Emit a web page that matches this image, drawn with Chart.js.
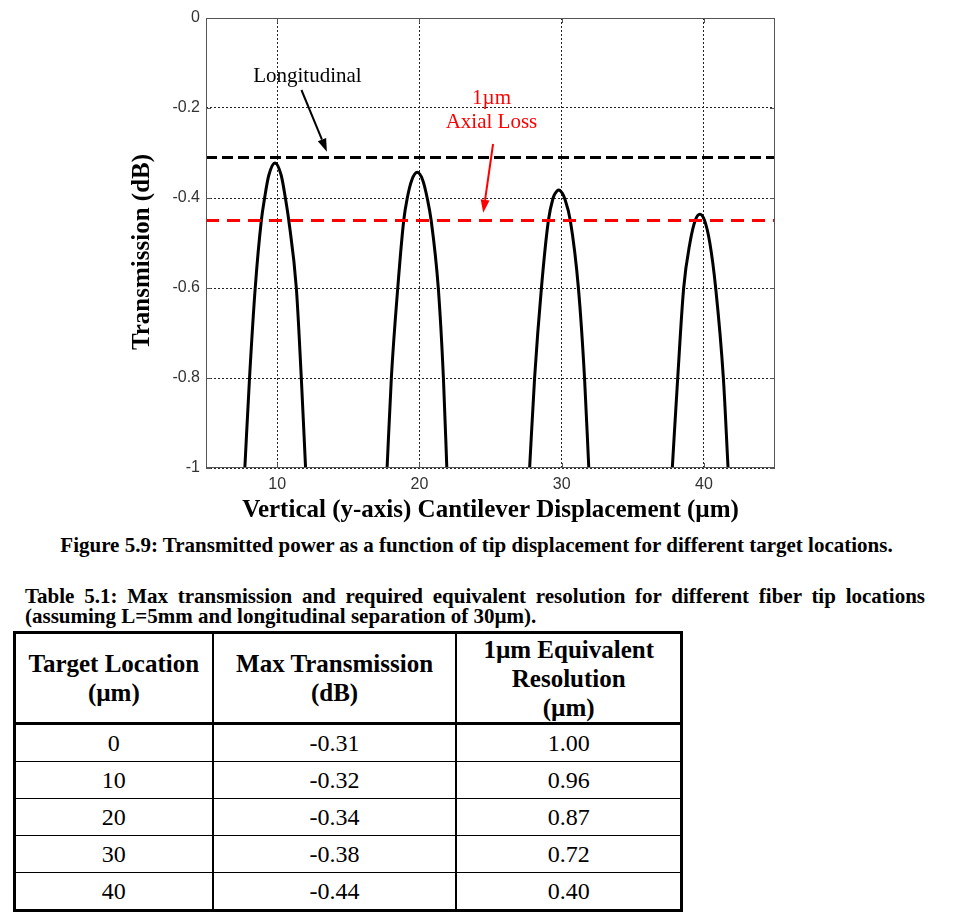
<!DOCTYPE html>
<html>
<head>
<meta charset="utf-8">
<script src="https://cdn.jsdelivr.net/npm/chart.js@4.4.0/dist/chart.umd.min.js"></script>
<style>
  body { margin: 0; background: #fff; width: 953px; height: 920px; position: relative; overflow: hidden;
         font-family: 'Liberation Serif', 'Times New Roman', serif; color: #000; }
  #chartBox { position: absolute; left: 0; top: 0; width: 953px; height: 530px; }
  #figCaption { position: absolute; left: 0; top: 532px; width: 953px; text-align: center;
                font-weight: bold; font-size: 21px; line-height: 26px; }
  #tblCaption { position: absolute; left: 25px; top: 586px; width: 900px; font-weight: bold;
                font-size: 21px; line-height: 20px; }
  #tblCaption .l1 { text-align: justify; text-align-last: justify; }
  #resTable { position: absolute; left: 13px; top: 631px; width: 670px; border-collapse: collapse;
              border: 3px solid #000; }
  #resTable th, #resTable td { text-align: center; padding: 0; border-left: 2px solid #000; border-right: 2px solid #000;
              font-family: 'Liberation Serif', 'Times New Roman', serif; }
  #resTable th { font-weight: bold; font-size: 25px; height: 88px; line-height: 29px; border-bottom: 3px solid #000; }
  #resTable td { font-weight: normal; font-size: 24px; height: 36px; border-top: 1.5px solid #000; }
</style>
</head>
<body>
<div id="chartBox"><canvas id="plot" width="953" height="530"></canvas></div>
<div id="figCaption">Figure 5.9: Transmitted power as a function of tip displacement for different target locations.</div>
<div id="tblCaption">
  <div class="l1">Table 5.1: Max transmission and required equivalent resolution for different fiber tip locations</div>
  <div>(assuming L=5mm and longitudinal separation of 30µm).</div>
</div>
<table id="resTable">
  <thead>
    <tr>
      <th style="width:199px">Target Location<br>(µm)</th>
      <th style="width:245px">Max Transmission<br>(dB)</th>
      <th style="width:226px">1µm Equivalent<br>Resolution<br>(µm)</th>
    </tr>
  </thead>
  <tbody id="tblBody"></tbody>
</table>

<script>
// axis ticks
const xRange = [5, 45];
const yRange = [-1, 0];
const xTicks = [10, 20, 30, 40];
const yTicks = [0, -0.2, -0.4, -0.6, -0.8, -1];
const yTickLabels = ['0', '-0.2', '-0.4', '-0.6', '-0.8', '-1'];

// transmission curves, one per target location
const peak10X = [7.73, 8.06, 8.46, 8.89, 9.12, 9.41, 9.85, 10.29, 10.58, 10.82, 11.35, 11.70, 12.0];
const peak10Y = [-1, -0.8, -0.6, -0.45, -0.4, -0.35, -0.322, -0.35, -0.4, -0.45, -0.6, -0.8, -1];
const peak20X = [17.73, 18.03, 18.48, 18.90, 19.15, 19.47, 19.85, 20.23, 20.55, 20.83, 21.33, 21.69, 21.93];
const peak20Y = [-1, -0.8, -0.6, -0.45, -0.4, -0.36, -0.343, -0.36, -0.4, -0.45, -0.6, -0.8, -1];
const peak30X = [27.75, 28.10, 28.58, 29.07, 29.40, 29.54, 29.80, 30.06, 30.20, 30.61, 31.18, 31.61, 31.91];
const peak30Y = [-1, -0.8, -0.6, -0.45, -0.4, -0.39, -0.382, -0.39, -0.4, -0.45, -0.6, -0.8, -1];
const peak40X = [37.78, 38.16, 38.58, 39.02, 39.39, 39.72, 40.05, 40.42, 40.83, 41.37, 41.70];
const peak40Y = [-1, -0.8, -0.6, -0.5, -0.45, -0.436, -0.45, -0.5, -0.6, -0.8, -1];

// reference levels
const longitudinalLevel = -0.31;
const axialLevel = -0.45;

// table
const targetLocations = [0, 10, 20, 30, 40];
const maxTransmission = [-0.31, -0.32, -0.34, -0.38, -0.44];
const equivResolution = [1.00, 0.96, 0.87, 0.72, 0.40];

// annotations (data coords)
const notes = [
  { text: 'Longitudinal', x: 12.13, y: -0.129, color: '#000' },
  { text: '1µm', x: 25.07, y: -0.178, color: '#ff0000' },
  { text: 'Axial Loss', x: 25.07, y: -0.233, color: '#ff0000' }
];
const arrows = [
  { from: [11.71, -0.16], to: [13.5, -0.297], color: '#000' },
  { from: [25.18, -0.28], to: [24.49, -0.433], color: '#ff0000' }
];
const yTitle = 'Transmission (dB)';

let tbody = document.getElementById('tblBody');
targetLocations.forEach((loc, i) => {
  let tr = document.createElement('tr');
  [String(loc), maxTransmission[i].toFixed(2), equivResolution[i].toFixed(2)].forEach(v => {
    let td = document.createElement('td');
    td.innerText = v;
    tr.appendChild(td);
  });
  tbody.appendChild(tr);
});

function toPoints(xs, ys) {
  return xs.map((x, i) => ({ x: x, y: ys[i] }));
}

function curve(xs, ys) {
  return {
    data: toPoints(xs, ys),
    borderColor: '#000',
    borderWidth: 3,
    pointRadius: 0,
    cubicInterpolationMode: 'monotone',
    fill: false
  };
}

function level(value, color, dash) {
  return {
    data: [{ x: xRange[0], y: value }, { x: xRange[1], y: value }],
    borderColor: color,
    borderWidth: 3,
    borderDash: dash,
    pointRadius: 0,
    fill: false
  };
}

function drawArrow(ctx, x1, y1, x2, y2, color) {
  let ang = Math.atan2(y2 - y1, x2 - x1);
  let len = 13, half = 4.5;
  let c = Math.cos(ang), s = Math.sin(ang);
  ctx.strokeStyle = color;
  ctx.fillStyle = color;
  ctx.lineWidth = 2;
  ctx.setLineDash([]);
  ctx.beginPath();
  ctx.moveTo(x1, y1);
  ctx.lineTo(x2 - len * c, y2 - len * s);
  ctx.stroke();
  ctx.beginPath();
  ctx.moveTo(x2, y2);
  ctx.lineTo(x2 - len * c + half * s, y2 - len * s - half * c);
  ctx.lineTo(x2 - len * c - half * s, y2 - len * s + half * c);
  ctx.closePath();
  ctx.fill();
}

const decorations = {
  id: 'decorations',
  afterDatasetsDraw(chart) {
    let ctx = chart.ctx;
    let a = chart.chartArea;
    let xs = chart.scales.x, ys = chart.scales.y;
    ctx.save();
    ctx.setLineDash([]);
    ctx.strokeStyle = '#555';
    ctx.lineWidth = 1;
    ctx.strokeRect(a.left + 0.5, a.top + 0.5, a.width - 1, a.height - 1);
    // matlab style inward tick marks
    ctx.beginPath();
    xTicks.forEach(v => {
      let px = Math.round(xs.getPixelForValue(v)) + 0.5;
      ctx.moveTo(px, a.bottom); ctx.lineTo(px, a.bottom - 5);
      ctx.moveTo(px, a.top); ctx.lineTo(px, a.top + 5);
    });
    yTicks.forEach(v => {
      let py = Math.round(ys.getPixelForValue(v)) + 0.5;
      ctx.moveTo(a.left, py); ctx.lineTo(a.left + 5, py);
      ctx.moveTo(a.right, py); ctx.lineTo(a.right - 5, py);
    });
    ctx.stroke();

    // y axis title, sits a bit below the plot centre in the original
    ctx.save();
    ctx.translate(a.left - 63, (a.top + a.bottom) / 2 + 9);
    ctx.rotate(-Math.PI / 2);
    ctx.font = 'bold 25px "Liberation Serif", "Times New Roman", serif';
    ctx.fillStyle = '#000';
    ctx.textAlign = 'center';
    ctx.textBaseline = 'middle';
    ctx.fillText(yTitle, 0, 0);
    ctx.restore();

    ctx.font = '21px "Liberation Serif", "Times New Roman", serif';
    ctx.textAlign = 'center';
    ctx.textBaseline = 'middle';
    notes.forEach(n => {
      ctx.fillStyle = n.color;
      ctx.fillText(n.text, xs.getPixelForValue(n.x), ys.getPixelForValue(n.y));
    });
    arrows.forEach(ar => {
      drawArrow(ctx,
        xs.getPixelForValue(ar.from[0]), ys.getPixelForValue(ar.from[1]),
        xs.getPixelForValue(ar.to[0]), ys.getPixelForValue(ar.to[1]), ar.color);
    });
    ctx.restore();
  }
};

let ctx = document.getElementById('plot').getContext('2d');
let chart = new Chart(ctx, {
  type: 'line',
  data: {
    datasets: [
      level(longitudinalLevel, '#000', [11, 5]),
      level(axialLevel, '#ff0000', [13, 8]),
      curve(peak10X, peak10Y),
      curve(peak20X, peak20Y),
      curve(peak30X, peak30Y),
      curve(peak40X, peak40Y)
    ]
  },
  options: {
    responsive: false,
    animation: false,
    layout: { padding: { left: 130, right: 178, top: 18, bottom: 0 } },
    plugins: { legend: { display: false }, tooltip: { enabled: false } },
    scales: {
      x: {
        type: 'linear',
        min: xRange[0],
        max: xRange[1],
        afterBuildTicks: s => { s.ticks = xTicks.map(v => ({ value: v })); },
        afterFit: s => { s.height = 62; },
        ticks: {
          font: { family: '"Liberation Sans", Arial, sans-serif', size: 16 },
          color: '#333',
          padding: 7,
          maxRotation: 0
        },
        grid: { color: '#222', lineWidth: 1, drawTicks: false },
        border: { display: false, dash: [2, 2] },
        title: {
          display: true,
          text: 'Vertical (y-axis) Cantilever Displacement (µm)',
          color: '#000',
          font: { family: '"Liberation Serif", "Times New Roman", serif', size: 25, weight: 'bold', lineHeight: 1 },
          padding: { top: 0, bottom: 7 }
        }
      },
      y: {
        type: 'linear',
        min: yRange[0],
        max: yRange[1],
        afterBuildTicks: s => { s.ticks = yTicks.map(v => ({ value: v })); },
        afterFit: s => { s.width = 76; },
        ticks: {
          font: { family: '"Liberation Sans", Arial, sans-serif', size: 16 },
          color: '#333',
          padding: 6,
          callback: (v, i) => yTickLabels[i]
        },
        grid: { color: '#222', lineWidth: 1, drawTicks: false },
        border: { display: false, dash: [2, 2] },
        title: { display: false }
      }
    }
  },
  plugins: [decorations]
});
</script>
</body>
</html>
